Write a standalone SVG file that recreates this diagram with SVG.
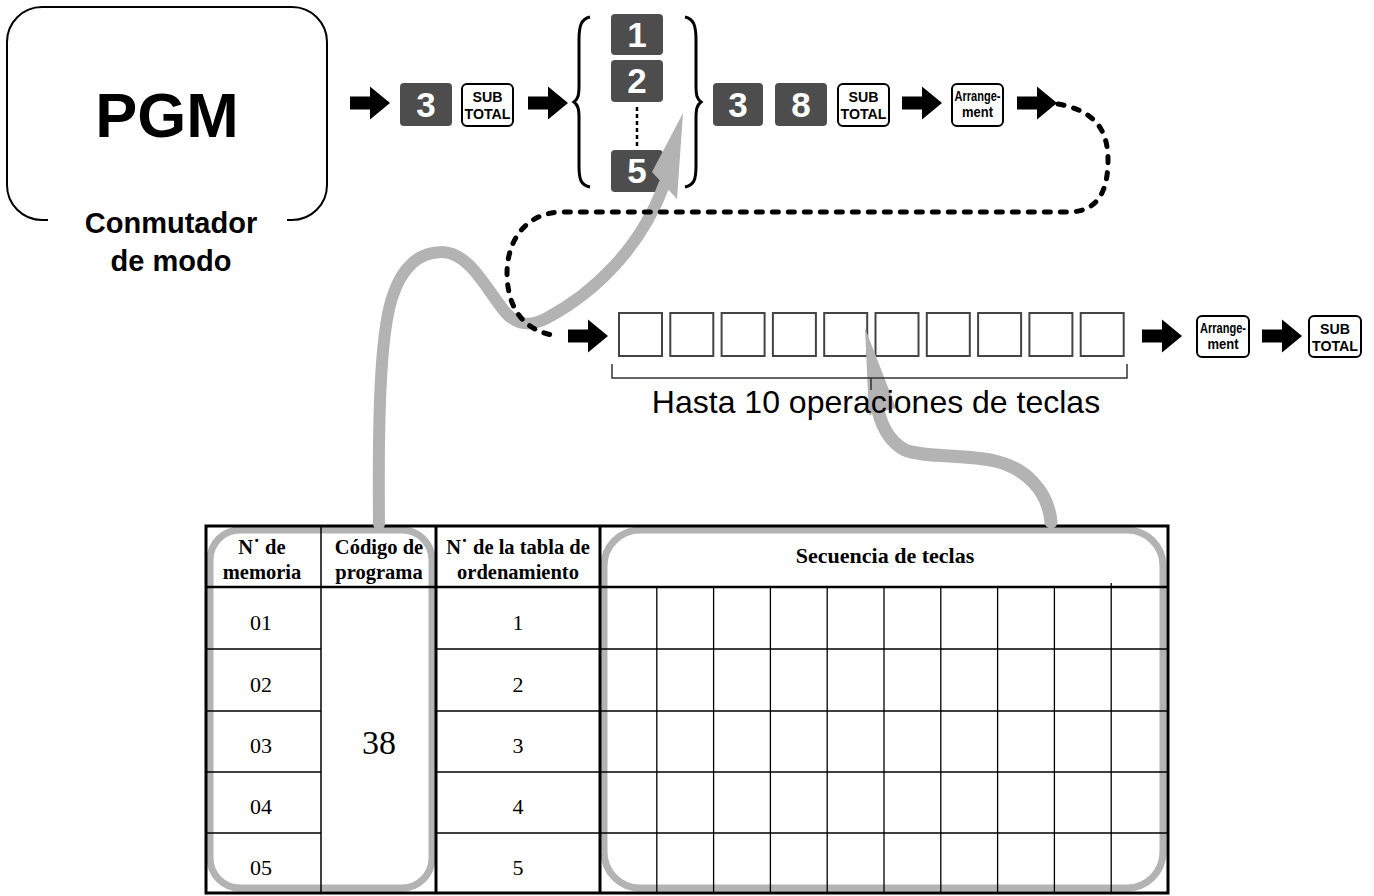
<svg xmlns="http://www.w3.org/2000/svg" xmlns:xlink="http://www.w3.org/1999/xlink" width="1374" height="896" viewBox="0 0 1374 896">
<style>
.sans{font-family:"Liberation Sans",Arial,sans-serif}
.dk{fill:#4d4d4d}
.dkt{fill:#fff;font-family:"Liberation Sans",Arial,sans-serif;font-weight:bold;font-size:35px;text-anchor:middle}
.wk{fill:#fff;stroke:#000;stroke-width:2}
.wkt{fill:#000;font-family:"Liberation Sans",Arial,sans-serif;font-weight:bold;font-size:15px;text-anchor:middle}
.wka{fill:#000;font-family:"Liberation Sans",Arial,sans-serif;font-weight:bold;font-size:14px;text-anchor:middle}
.box{fill:#fff;stroke:#444;stroke-width:2}
.gray{fill:none;stroke:#b3b3b3;stroke-linecap:round}
.th{font-family:"Liberation Serif","Times New Roman",serif;font-weight:bold;font-size:20.5px;text-anchor:middle}
.td{font-family:"Liberation Serif","Times New Roman",serif;font-size:22px;text-anchor:middle}
.big{font-family:"Liberation Serif","Times New Roman",serif;font-size:34px;text-anchor:middle}
.thin{stroke:#000;stroke-width:1.3}
</style>
<defs>
<path id="arr" d="M0,-6.5 L20,-6.5 L20,-16.5 L40,0 L20,16.5 L20,6.5 L0,6.5 Z" fill="#000"/>
</defs>

<g id="mode-switch">
<path d="M48,220 L42,220 A35,35 0 0 1 7,185 L7,42 A35,35 0 0 1 42,7 L292,7 A35,35 0 0 1 327,42 L327,185 A35,35 0 0 1 292,220 L287,220" fill="none" stroke="#000" stroke-width="2"/>
<text x="167" y="137" class="sans" font-weight="bold" font-size="63" text-anchor="middle">PGM</text>
<text x="171" y="233" class="sans" font-weight="bold" font-size="29" text-anchor="middle">Conmutador</text>
<text x="171" y="271" class="sans" font-weight="bold" font-size="29" text-anchor="middle">de modo</text>
</g>

<g id="top-keys">
<use xlink:href="#arr" x="350" y="103"/>
<rect class="dk" x="400" y="83" width="52" height="43" rx="4"/>
<text class="dkt" x="426" y="117">3</text>
<rect class="wk" x="462" y="84" width="51" height="42" rx="5"/>
<text class="wkt" x="487.5" y="102" textLength="30" lengthAdjust="spacingAndGlyphs">SUB</text>
<text class="wkt" x="487.5" y="119" textLength="46" lengthAdjust="spacingAndGlyphs">TOTAL</text>
<use xlink:href="#arr" x="528" y="103"/>
<path d="M590,17 C581,19 579,26 579,40 L579,86 C579,95 578,99 574,102 C578,105 579,109 579,118 L579,166 C579,180 581,185 590,187" fill="none" stroke="#000" stroke-width="3"/>
<path d="M685,17 C694,19 696,26 696,40 L696,86 C696,95 697,99 701,102 C697,105 696,109 696,118 L696,166 C696,180 694,185 685,187" fill="none" stroke="#000" stroke-width="3"/>
<rect class="dk" x="611" y="14" width="52" height="41" rx="4"/>
<text class="dkt" x="637" y="47">1</text>
<rect class="dk" x="611" y="60" width="52" height="42" rx="4"/>
<text class="dkt" x="637" y="93">2</text>
<line x1="637" y1="107" x2="637" y2="146" stroke="#000" stroke-width="2.5" stroke-dasharray="4 3"/>
<rect class="dk" x="611" y="150" width="52" height="42" rx="4"/>
<text class="dkt" x="637" y="183">5</text>
<rect class="dk" x="713" y="83" width="50" height="43" rx="4"/>
<text class="dkt" x="738" y="117">3</text>
<rect class="dk" x="775" y="83" width="52" height="43" rx="4"/>
<text class="dkt" x="801" y="117">8</text>
<rect class="wk" x="838" y="84" width="51" height="42" rx="5"/>
<text class="wkt" x="863.5" y="102" textLength="30" lengthAdjust="spacingAndGlyphs">SUB</text>
<text class="wkt" x="863.5" y="119" textLength="46" lengthAdjust="spacingAndGlyphs">TOTAL</text>
<use xlink:href="#arr" x="902" y="103"/>
<rect class="wk" x="952" y="84" width="51" height="42" rx="5"/>
<text class="wka" x="977.5" y="101" textLength="46" lengthAdjust="spacingAndGlyphs">Arrange-</text>
<text class="wka" x="977.5" y="117" textLength="31" lengthAdjust="spacingAndGlyphs">ment</text>
<use xlink:href="#arr" x="1017" y="103"/>
</g>

<g id="key-boxes">
<use xlink:href="#arr" x="568" y="336"/>
<rect class="box" x="619" y="313" width="43" height="43"/>
<rect class="box" x="670.3" y="313" width="43" height="43"/>
<rect class="box" x="721.6" y="313" width="43" height="43"/>
<rect class="box" x="772.9" y="313" width="43" height="43"/>
<rect class="box" x="824.2" y="313" width="43" height="43"/>
<rect class="box" x="875.5" y="313" width="43" height="43"/>
<rect class="box" x="926.8" y="313" width="43" height="43"/>
<rect class="box" x="978.1" y="313" width="43" height="43"/>
<rect class="box" x="1029.4" y="313" width="43" height="43"/>
<rect class="box" x="1080.7" y="313" width="43" height="43"/>
<use xlink:href="#arr" x="1142" y="336"/>
<rect class="wk" x="1197" y="316" width="52" height="41" rx="5"/>
<text class="wka" x="1223" y="333" textLength="46" lengthAdjust="spacingAndGlyphs">Arrange-</text>
<text class="wka" x="1223" y="349" textLength="31" lengthAdjust="spacingAndGlyphs">ment</text>
<use xlink:href="#arr" x="1262" y="336"/>
<rect class="wk" x="1309" y="316" width="52" height="41" rx="5"/>
<text class="wkt" x="1335" y="334" textLength="30" lengthAdjust="spacingAndGlyphs">SUB</text>
<text class="wkt" x="1335" y="351" textLength="46" lengthAdjust="spacingAndGlyphs">TOTAL</text>
</g>

<g id="table-highlights">
<rect class="gray" x="210" y="530" width="222" height="358" rx="30" stroke-width="7"/>
<rect class="gray" x="604" y="530" width="559" height="358" rx="36" stroke-width="7"/>
</g>

<g id="table">
<rect x="206" y="526" width="962" height="367" fill="none" stroke="#000" stroke-width="3"/>
<line x1="206" y1="587" x2="1168" y2="587" stroke="#000" stroke-width="2.5"/>
<line x1="321" y1="526" x2="321" y2="893" stroke="#000" stroke-width="1.5"/>
<line x1="436" y1="526" x2="436" y2="893" stroke="#000" stroke-width="3"/>
<line x1="600" y1="526" x2="600" y2="893" stroke="#000" stroke-width="3"/>
<g class="thin">
<line x1="656.8" y1="587" x2="656.8" y2="893"/>
<line x1="713.6" y1="587" x2="713.6" y2="893"/>
<line x1="770.4" y1="587" x2="770.4" y2="893"/>
<line x1="827.2" y1="587" x2="827.2" y2="893"/>
<line x1="884" y1="587" x2="884" y2="893"/>
<line x1="940.8" y1="587" x2="940.8" y2="893"/>
<line x1="997.6" y1="587" x2="997.6" y2="893"/>
<line x1="1054.4" y1="587" x2="1054.4" y2="893"/>
<line x1="1111.2" y1="583" x2="1111.2" y2="893"/>
<line x1="206" y1="649" x2="321" y2="649"/>
<line x1="206" y1="711" x2="321" y2="711"/>
<line x1="206" y1="772" x2="321" y2="772"/>
<line x1="206" y1="833" x2="321" y2="833"/>
<line x1="436" y1="649" x2="1168" y2="649"/>
<line x1="436" y1="711" x2="1168" y2="711"/>
<line x1="436" y1="772" x2="1168" y2="772"/>
<line x1="436" y1="833" x2="1168" y2="833"/>
</g>
<text class="th" x="262" y="554">N˙ de</text>
<text class="th" x="262" y="579">memoria</text>
<text class="th" x="379" y="554">Código de</text>
<text class="th" x="379" y="579">programa</text>
<text class="th" x="518" y="554">N˙ de la tabla de</text>
<text class="th" x="518" y="579">ordenamiento</text>
<text class="th" x="885" y="563" style="font-size:22px">Secuencia de teclas</text>
<text class="td" x="261" y="630">01</text>
<text class="td" x="261" y="692">02</text>
<text class="td" x="261" y="753">03</text>
<text class="td" x="261" y="814">04</text>
<text class="td" x="261" y="875">05</text>
<text class="big" x="379" y="754">38</text>
<text class="td" x="518" y="630">1</text>
<text class="td" x="518" y="692">2</text>
<text class="td" x="518" y="753">3</text>
<text class="td" x="518" y="814">4</text>
<text class="td" x="518" y="875">5</text>
</g>

<g id="connectors">
<path class="gray" stroke-width="12" d="M379,524 C378,420 380,335 392,298 C402,266 420,252 442,252 C472,252 492,300 508,315 C520,326 532,326 547,318 C592,294 640,250 664,185"/>
<polygon fill="#b3b3b3" points="683,113 677,199 652,172"/>
<path class="gray" stroke-width="13" d="M1051,522 C1048,490 1025,468 995,461 C965,454 925,458 905,450 C886,440 879,420 876,400"/>
<polygon fill="#b3b3b3" points="865,328 869,415 896,408"/>
<path d="M1058,104 C1090,110 1108,125 1108,160 C1108,195 1095,212 1068,212 L563,212 C530,212 508,235 507,272 C507,310 525,332 558,336" fill="none" stroke="#000" stroke-width="5" stroke-linecap="round" stroke-dasharray="6 10"/>
<path d="M612,364 L612,378 L1127,378 L1127,364 M871,378 L871,390" fill="none" stroke="#333" stroke-width="1.5"/>
</g>

<g id="label">
<text x="876" y="413" class="sans" font-size="32" text-anchor="middle">Hasta 10 operaciones de teclas</text>
</g>
</svg>
